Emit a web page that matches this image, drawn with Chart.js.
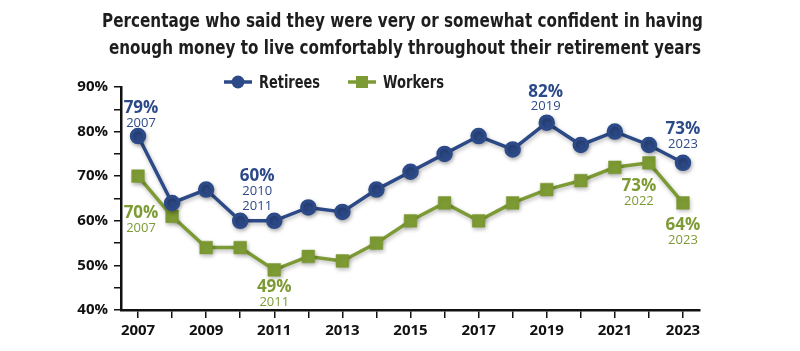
<!DOCTYPE html>
<html>
<head>
<meta charset="utf-8">
<script src="https://cdn.jsdelivr.net/npm/chart.js@4.4.0/dist/chart.umd.min.js"></script>
<style>
  html, body { margin: 0; padding: 0; background: #fff; }
  #wrap { width: 800px; height: 351px; }
</style>
</head>
<body>
<div id="wrap"><canvas id="chart" width="800" height="351"></canvas></div>
<script>
// Jahre und Werte
const years = ['2007','2008','2009','2010','2011','2012','2013','2014','2015','2016','2017','2018','2019','2020','2021','2022','2023'];
const retirees = [79, 64, 67, 60, 60, 63, 62, 67, 71, 75, 79, 76, 82, 77, 80, 77, 73];
const workers = [70, 61, 54, 54, 49, 52, 51, 55, 60, 64, 60, 64, 67, 69, 72, 73, 64];
const yTicks = [40, 50, 60, 70, 80, 90];

const titleLines = [
  'Percentage who said they were very or somewhat confident in having',
  'enough money to live comfortably throughout their retirement years'
];

// Beschriftungen an einzelnen Punkten: [Datensatz, Index, Zeilen, dx, dy, Zeilenabstand]
const callouts = [
  [0, 0, ['79%', '2007'], 3, -28, 15],
  [0, 3, ['60%', '2010', '2011'], 17, -45, 15],
  [0, 12, ['82%', '2019'], -1, -31, 15],
  [0, 16, ['73%', '2023'], 0, -33.5, 15],
  [1, 0, ['70%', '2007'], 3, 37, 15],
  [1, 4, ['49%', '2011'], 0, 17.5, 14.5],
  [1, 15, ['73%', '2022'], -10, 23, 15.5],
  [1, 16, ['64%', '2023'], 0, 22, 15]
];

const navy = '#2d4a88';
const green = '#7d9b34';
const condensed = '"DejaVu Sans", sans-serif';

// Text horizontal auf eine Breite zusammenschieben
function fitText(ctx, text, left, baseline, width) {
  const w = ctx.measureText(text).width;
  ctx.save();
  ctx.translate(left, baseline);
  ctx.scale(width / w, 1);
  ctx.textAlign = 'left';
  ctx.fillText(text, 0, 0);
  ctx.restore();
}

const shadowPlugin = {
  id: 'shadow',
  beforeDatasetDraw(chart) {
    const ctx = chart.ctx;
    ctx.save();
    ctx.shadowColor = 'rgba(0,0,0,0.28)';
    ctx.shadowBlur = 4;
    ctx.shadowOffsetX = 1;
    ctx.shadowOffsetY = 2;
  },
  afterDatasetDraw(chart) {
    chart.ctx.restore();
  }
};

const textPlugin = {
  id: 'texte',
  afterDraw(chart) {
    const ctx = chart.ctx;
    ctx.save();
    // Titel
    ctx.fillStyle = '#1e1e1e';
    ctx.textBaseline = 'alphabetic';
    ctx.font = 'bold 19px ' + condensed;
    fitText(ctx, titleLines[0], 102, 27, 601);
    fitText(ctx, titleLines[1], 109, 54, 592);

    // Legende
    const items = [
      { x: 224, label: 'Retirees', color: navy, style: 'circle' },
      { x: 348, label: 'Workers', color: green, style: 'rect' }
    ];
    items.forEach(it => {
      ctx.strokeStyle = it.color;
      ctx.lineWidth = 3.5;
      ctx.beginPath();
      ctx.moveTo(it.x, 82);
      ctx.lineTo(it.x + 28, 82);
      ctx.stroke();
      ctx.fillStyle = it.color;
      if (it.style === 'circle') {
        ctx.beginPath();
        ctx.arc(it.x + 14, 82, 6.5, 0, Math.PI * 2);
        ctx.fill();
      } else {
        ctx.fillRect(it.x + 8, 76, 12, 12);
      }
      ctx.fillStyle = '#1e1e1e';
      ctx.font = 'bold 17px ' + condensed;
      fitText(ctx, it.label, it.x + 35, 88, 61);
    });

    // Punktbeschriftungen
    const xs = chart.scales.x, ys = chart.scales.y;
    ctx.textBaseline = 'middle';
    callouts.forEach(([ds, i, lines, dx, dy, gap]) => {
      const data = ds === 0 ? retirees : workers;
      const px = xs.getPixelForValue(i) + dx;
      const py = ys.getPixelForValue(data[i]) + dy;
      ctx.fillStyle = ds === 0 ? navy : green;
      ctx.textAlign = 'center';
      lines.forEach((t, k) => {
        if (k === 0) {
          ctx.font = 'bold 17px "Open Sans", sans-serif';
          ctx.fillText(t, px, py);
        } else {
          ctx.font = '13px "Open Sans", sans-serif';
          ctx.fillText(t, px, py + k * gap);
        }
      });
    });
    ctx.restore();
  }
};

new Chart(document.getElementById('chart'), {
  type: 'line',
  data: {
    labels: years,
    datasets: [
      {
        label: 'Retirees',
        data: retirees,
        borderColor: navy,
        backgroundColor: navy,
        borderWidth: 3.5,
        pointStyle: 'circle',
        pointRadius: 6.5,
        pointHoverRadius: 6.5,
        tension: 0
      },
      {
        label: 'Workers',
        data: workers,
        borderColor: green,
        backgroundColor: green,
        borderWidth: 3.5,
        pointStyle: 'rect',
        pointRadius: 9,
        pointBorderWidth: 0.5,
        pointHoverRadius: 9,
        tension: 0
      }
    ]
  },
  options: {
    responsive: false,
    animation: false,
    layout: { padding: { top: 87, right: 100, left: 0, bottom: 0 } },
    plugins: {
      legend: { display: false },
      title: { display: false },
      tooltip: { enabled: false }
    },
    scales: {
      x: {
        type: 'category',
        offset: true,
        grid: { display: true, drawOnChartArea: false, offset: false, color: '#111', lineWidth: 1.5, tickLength: 8 },
        border: { display: true, color: '#111', width: 2.5 },
        ticks: {
          autoSkip: false,
          maxRotation: 0,
          padding: 4,
          color: '#111',
          font: { family: '"Open Sans", sans-serif', weight: 'bold', size: 15 },
          callback: (v, i) => (i % 2 === 0 ? years[i] : '')
        },
        afterFit(scale) { scale.height = 41; }
      },
      y: {
        min: 40,
        max: 90,
        grid: { display: true, drawOnChartArea: false, color: '#111', lineWidth: 1.5, tickLength: 7 },
        border: { display: true, color: '#111', width: 2.5 },
        ticks: {
          stepSize: 5,
          padding: 6,
          color: '#111',
          font: { family: '"Open Sans", sans-serif', weight: 'bold', size: 15 },
          callback: v => (yTicks.includes(v) ? v + '%' : '')
        },
        afterFit(scale) { scale.width = 121; }
      }
    }
  },
  plugins: [shadowPlugin, textPlugin]
});
</script>
</body>
</html>
